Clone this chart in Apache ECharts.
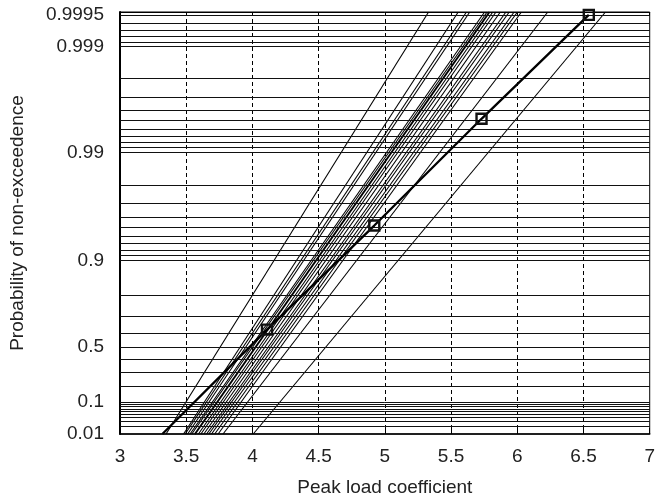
<!DOCTYPE html>
<html>
<head>
<meta charset="utf-8">
<script src="https://cdn.jsdelivr.net/npm/echarts@6/dist/echarts.min.js"></script>
<style>html,body{margin:0;padding:0;background:#fff}#c{width:658px;height:502px}</style>
</head>
<body>
<div id="c"></div>
<script>
// ---- data ----
const xTicks = [3, 3.5, 4, 4.5, 5, 5.5, 6, 6.5, 7];
const probTickLabels = ['0.01', '0.1', '0.5', '0.9', '0.99', '0.999', '0.9995'];
const probGridLines = [
  0.01, 0.02, 0.03, 0.04, 0.05, 0.06, 0.07, 0.08, 0.09,
  0.1, 0.2, 0.3, 0.4, 0.5, 0.6, 0.7, 0.8, 0.9,
  0.91, 0.92, 0.93, 0.94, 0.95, 0.96, 0.97, 0.98, 0.99,
  0.991, 0.992, 0.993, 0.994, 0.995, 0.996, 0.997, 0.998, 0.999,
  0.9991, 0.9992, 0.9993, 0.9994, 0.9995
];
const probMin = 0.01;
const probMax = 0.99953;
// fitted distribution lines: x at p = probMin and x at p = probMax
const fitStartX = [3.348, 3.480, 3.492, 3.511, 3.529, 3.542, 3.566, 3.592, 3.611, 3.633, 3.654, 3.671, 3.691, 3.715, 3.741, 3.778, 4.006];
const fitEndX   = [5.330, 5.554, 5.616, 5.641, 5.753, 5.772, 5.790, 5.815, 5.839, 5.872, 5.914, 5.939, 5.976, 6.001, 6.031, 6.230, 6.666];
// empirical series
const empX = [3.32, 4.11, 4.92, 5.73, 6.54];
const empP = [0.01, 0.622, 0.952, 0.9952, 0.9995];

// ---- helpers ----
const G = p => -Math.log(-Math.log(p)); // Gumbel reduced variate
const font = 'Liberation Sans, Arial, Helvetica, sans-serif';

const chart = echarts.init(document.getElementById('c'), null, {renderer: 'canvas'});

const series = [];
series.push({
  type: 'line', data: [], silent: true, z: 1,
  markLine: {
    silent: true, symbol: 'none', animation: false,
    label: {show: false},
    lineStyle: {color: '#111', width: 1, type: 'solid'},
    emphasis: {disabled: true},
    data: probGridLines.map(p => ({yAxis: G(p)}))
  }
});
fitStartX.forEach((x0, i) => {
  series.push({
    type: 'line', silent: true, z: 3, symbol: 'none', clip: true,
    lineStyle: {color: '#000', width: (i === 6 ? 1.9 : 1.1)},
    data: [[x0, G(probMin)], [fitEndX[i], G(probMax)]]
  });
});
series.push({
  type: 'line', silent: true, z: 5, clip: true,
  symbol: 'rect', symbolSize: 10, showSymbol: true,
  lineStyle: {color: '#000', width: 2.3},
  itemStyle: {color: 'rgba(255,255,255,0)', borderColor: '#111', borderWidth: 2.4},
  data: empX.map((x, i) => i === 0 ? {value: [x, G(empP[i])], symbol: 'none'} : {value: [x, G(empP[i])]})
});

chart.setOption({
  animation: false,
  grid: {left: 117, top: 12, width: 537, height: 422, show: true, borderColor: '#000', borderWidth: 1, backgroundColor: 'transparent'},
  xAxis: [{
    type: 'value', min: 3, max: 7, interval: 0.5, position: 'bottom',
    name: 'Peak load coefficient', nameLocation: 'middle', nameGap: 44,
    nameTextStyle: {fontFamily: font, fontSize: 19, color: '#222'},
    axisLine: {show: true, onZero: false, lineStyle: {color: '#000', width: 1.6}},
    axisTick: {show: true, inside: true, length: 6, lineStyle: {color: '#000', width: 1}},
    axisLabel: {fontFamily: font, fontSize: 19, color: '#222', margin: 13,
      customValues: xTicks, formatter: v => String(v)},
    splitLine: {show: true, showMinLine: false, showMaxLine: false, lineStyle: {color: '#000', width: 1, type: [4, 3]}}
  }, {
    type: 'value', min: 3, max: 7, interval: 0.5, position: 'top',
    axisLine: {show: true, onZero: false, lineStyle: {color: '#000', width: 1}},
    axisTick: {show: true, inside: true, length: 4, lineStyle: {color: '#000', width: 1}},
    axisLabel: {show: false}, splitLine: {show: false}
  }],
  yAxis: {
    type: 'value', min: G(probMin), max: G(probMax),
    name: 'Probability of non-exceedence', nameLocation: 'middle', nameGap: 93, nameRotate: 90,
    nameTextStyle: {fontFamily: font, fontSize: 19, color: '#222'},
    axisLine: {show: true, onZero: false, lineStyle: {color: '#000', width: 2}},
    axisTick: {show: false},
    axisLabel: {
      fontFamily: font, fontSize: 19, color: '#222', margin: 16,
      customValues: probTickLabels.map(s => G(parseFloat(s))),
      formatter: v => {
        let best = probTickLabels[0], bd = Infinity;
        probTickLabels.forEach(s => { const d = Math.abs(G(parseFloat(s)) - v); if (d < bd) { bd = d; best = s; } });
        return best;
      }
    },
    splitLine: {show: false}
  },
  series: series
});
</script>
</body>
</html>
